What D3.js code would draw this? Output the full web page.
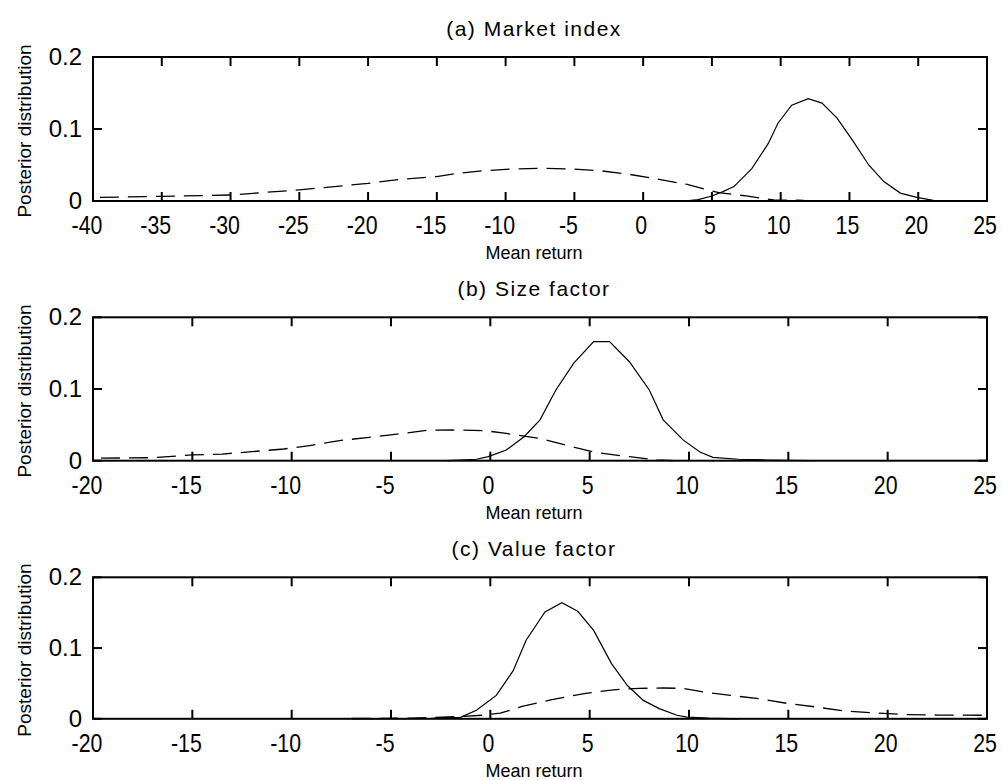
<!DOCTYPE html>
<html><head><meta charset="utf-8">
<script src="https://cdn.jsdelivr.net/npm/d3@7"></script>
<style>
body{margin:0;background:#fff}
svg{display:block;background:#fff}
text{font-family:"Liberation Sans",Arial,Helvetica,sans-serif;fill:#000}
</style>
</head><body>
<svg id="chart" width="1003" height="780"></svg>
<script>
// ---------- data ----------
const titles = ["(a) Market index", "(b) Size factor", "(c) Value factor"];
const xLabel = "Mean return";
const yLabel = "Posterior distribution";

const xTicksA = [-40, -35, -30, -25, -20, -15, -10, -5, 0, 5, 10, 15, 20, 25];
const xTicksBC = [-20, -15, -10, -5, 0, 5, 10, 15, 20, 25];
const yTicks = [0, 0.1, 0.2];

// (a) Market index
const aSolidX = [3.0, 4.0, 5.0, 5.8, 6.6, 7.9, 9.1, 9.8, 10.8, 12.0, 13.0, 14.1, 15.3, 16.4, 17.5, 18.7, 19.9, 21.1, 22.3];
const aSolidY = [0.0, 0.002, 0.007, 0.013, 0.020, 0.045, 0.080, 0.108, 0.133, 0.142, 0.136, 0.115, 0.082, 0.050, 0.027, 0.011, 0.005, 0.001, 0.0];
const aDashX = [-39.5, -35, -30, -25, -20, -17.7, -15, -13.5, -11.6, -9.5, -7.3, -5.1, -3.1, -1.0, 1.0, 3.2, 5.5, 7.5, 9.5, 11.7];
const aDashY = [0.005, 0.0065, 0.0083, 0.0155, 0.0245, 0.030, 0.034, 0.0385, 0.042, 0.0444, 0.0454, 0.0444, 0.042, 0.037, 0.0306, 0.023, 0.0115, 0.007, 0.0014, 0.001];

// (b) Size factor
const bSolidX = [-2.2, -0.7, -0.1, 0.8, 1.7, 2.5, 3.3, 4.2, 5.2, 6.0, 7.0, 8.0, 8.7, 9.7, 10.55, 11.2, 12.5, 14.0, 16.2];
const bSolidY = [0.0, 0.002, 0.0056, 0.015, 0.0335, 0.057, 0.0986, 0.136, 0.166, 0.166, 0.138, 0.0986, 0.057, 0.029, 0.012, 0.0047, 0.002, 0.001, 0.0];
const bDashX = [-19.6, -17, -15, -13.5, -12, -10.4, -9.1, -7.6, -6.1, -4.7, -3.2, -1.9, -0.3, 0.8, 2.5, 4.1, 5.4, 7.0, 8.4, 9.5];
const bDashY = [0.0035, 0.0042, 0.008, 0.0093, 0.0126, 0.0163, 0.021, 0.028, 0.0326, 0.037, 0.0425, 0.0428, 0.042, 0.038, 0.031, 0.0195, 0.011, 0.0056, 0.001, 0.0];

// (c) Value factor
const cSolidX = [-7.0, -3.0, -1.5, -0.7, 0.3, 1.15, 1.8, 2.75, 3.6, 4.4, 5.2, 6.1, 6.9, 7.7, 8.5, 9.4, 9.9, 11.0, 12.5];
const cSolidY = [0.0, 0.0005, 0.002, 0.012, 0.033, 0.068, 0.111, 0.151, 0.164, 0.152, 0.125, 0.078, 0.047, 0.026, 0.0144, 0.005, 0.0025, 0.001, 0.0];
const cDashX = [-7.0, -4.0, -1.7, -0.4, 0.5, 1.6, 3.1, 4.8, 6.2, 7.5, 8.7, 9.7, 10.8, 12.1, 13.5, 14.9, 16.4, 17.8, 19.4, 20.9, 22.5, 24.9];
const cDashY = [0.0005, 0.001, 0.003, 0.005, 0.008, 0.0175, 0.027, 0.036, 0.041, 0.043, 0.0435, 0.043, 0.0377, 0.033, 0.0285, 0.022, 0.0167, 0.011, 0.0082, 0.006, 0.0053, 0.005];

// ---------- layout ----------
const svg = d3.select("#chart");
const left = 93, right = 987;
const layout = [
  {top: 57, bottom: 201, domain: [-40, 25], ticks: xTicksA, solid: [aSolidX, aSolidY], dash: [aDashX, aDashY]},
  {top: 317.3, bottom: 460.7, domain: [-20, 25], ticks: xTicksBC, solid: [bSolidX, bSolidY], dash: [bDashX, bDashY]},
  {top: 577.3, bottom: 718.8, domain: [-20, 25], ticks: xTicksBC, solid: [cSolidX, cSolidY], dash: [cDashX, cDashY]}
];
const W = right - left;
const textCx = 534 - left;
const TL = 9; // tick length

layout.forEach((p, i) => {
  const H = p.bottom - p.top;
  const g = svg.append("g").attr("transform", `translate(${left},${p.top})`);
  const x = d3.scaleLinear().domain(p.domain).range([0, W]);
  const y = d3.scaleLinear().domain([0, 0.2]).range([H, 0]);

  // curves
  const line = d3.line().x(d => x(d[0])).y(d => y(d[1]));
  const solidPts = p.solid[0].map((v, k) => [v, p.solid[1][k]]);
  const dashPts = p.dash[0].map((v, k) => [v, p.dash[1][k]]);
  g.append("path").datum(dashPts).attr("d", line)
    .attr("fill", "none").attr("stroke", "#000").attr("stroke-width", 1.3)
    .attr("stroke-dasharray", "19,9");
  g.append("path").datum(solidPts).attr("d", line)
    .attr("fill", "none").attr("stroke", "#000").attr("stroke-width", 1.2);

  // box
  g.append("rect").attr("x", 0).attr("y", 0).attr("width", W).attr("height", H)
    .attr("fill", "none").attr("stroke", "#000").attr("stroke-width", 2);

  // ticks as thin rects (inward, on all four sides)
  const tk = g.append("g").attr("fill", "#000");
  tk.selectAll(".tb").data(p.ticks).join("rect").attr("class", "tb")
    .attr("x", d => x(d) - 1).attr("y", H - TL).attr("width", 2).attr("height", TL);
  tk.selectAll(".tt").data(p.ticks).join("rect").attr("class", "tt")
    .attr("x", d => x(d) - 1).attr("y", 0).attr("width", 2).attr("height", TL);
  tk.selectAll(".tl").data(yTicks).join("rect").attr("class", "tl")
    .attr("x", 0).attr("y", d => y(d) - 1).attr("width", TL).attr("height", 2);
  tk.selectAll(".tr").data(yTicks).join("rect").attr("class", "tr")
    .attr("x", W - TL).attr("y", d => y(d) - 1).attr("width", TL).attr("height", 2);

  // x tick labels
  g.selectAll(".xl").data(p.ticks).join("text")
    .attr("class", "xl")
    .attr("text-anchor", "middle")
    .attr("transform", d => `translate(${x(d) + (d < 0 ? -6 : -2)},${H + 33}) scale(0.82,1)`)
    .style("font-size", "26px")
    .text(d => String(d));

  // y tick labels
  g.selectAll(".yl").data(yTicks).join("text")
    .attr("class", "yl")
    .attr("text-anchor", "end")
    .attr("x", -11)
    .attr("y", d => y(d) + 8)
    .style("font-size", "24px")
    .text(d => String(d));

  // title
  g.append("text").attr("x", textCx).attr("y", -21.5)
    .attr("text-anchor", "middle")
    .style("font-size", "21px").style("letter-spacing", "1.5px")
    .text(titles[i]);

  // x label
  g.append("text").attr("x", textCx).attr("y", H + 58)
    .attr("text-anchor", "middle")
    .style("font-size", "18px")
    .text(xLabel);

  // y label
  g.append("text")
    .attr("transform", `translate(${31 - left},${H / 2 + 2}) rotate(-90)`)
    .attr("text-anchor", "middle")
    .style("font-size", "19px")
    .text(yLabel);
});
</script>
</body></html>
